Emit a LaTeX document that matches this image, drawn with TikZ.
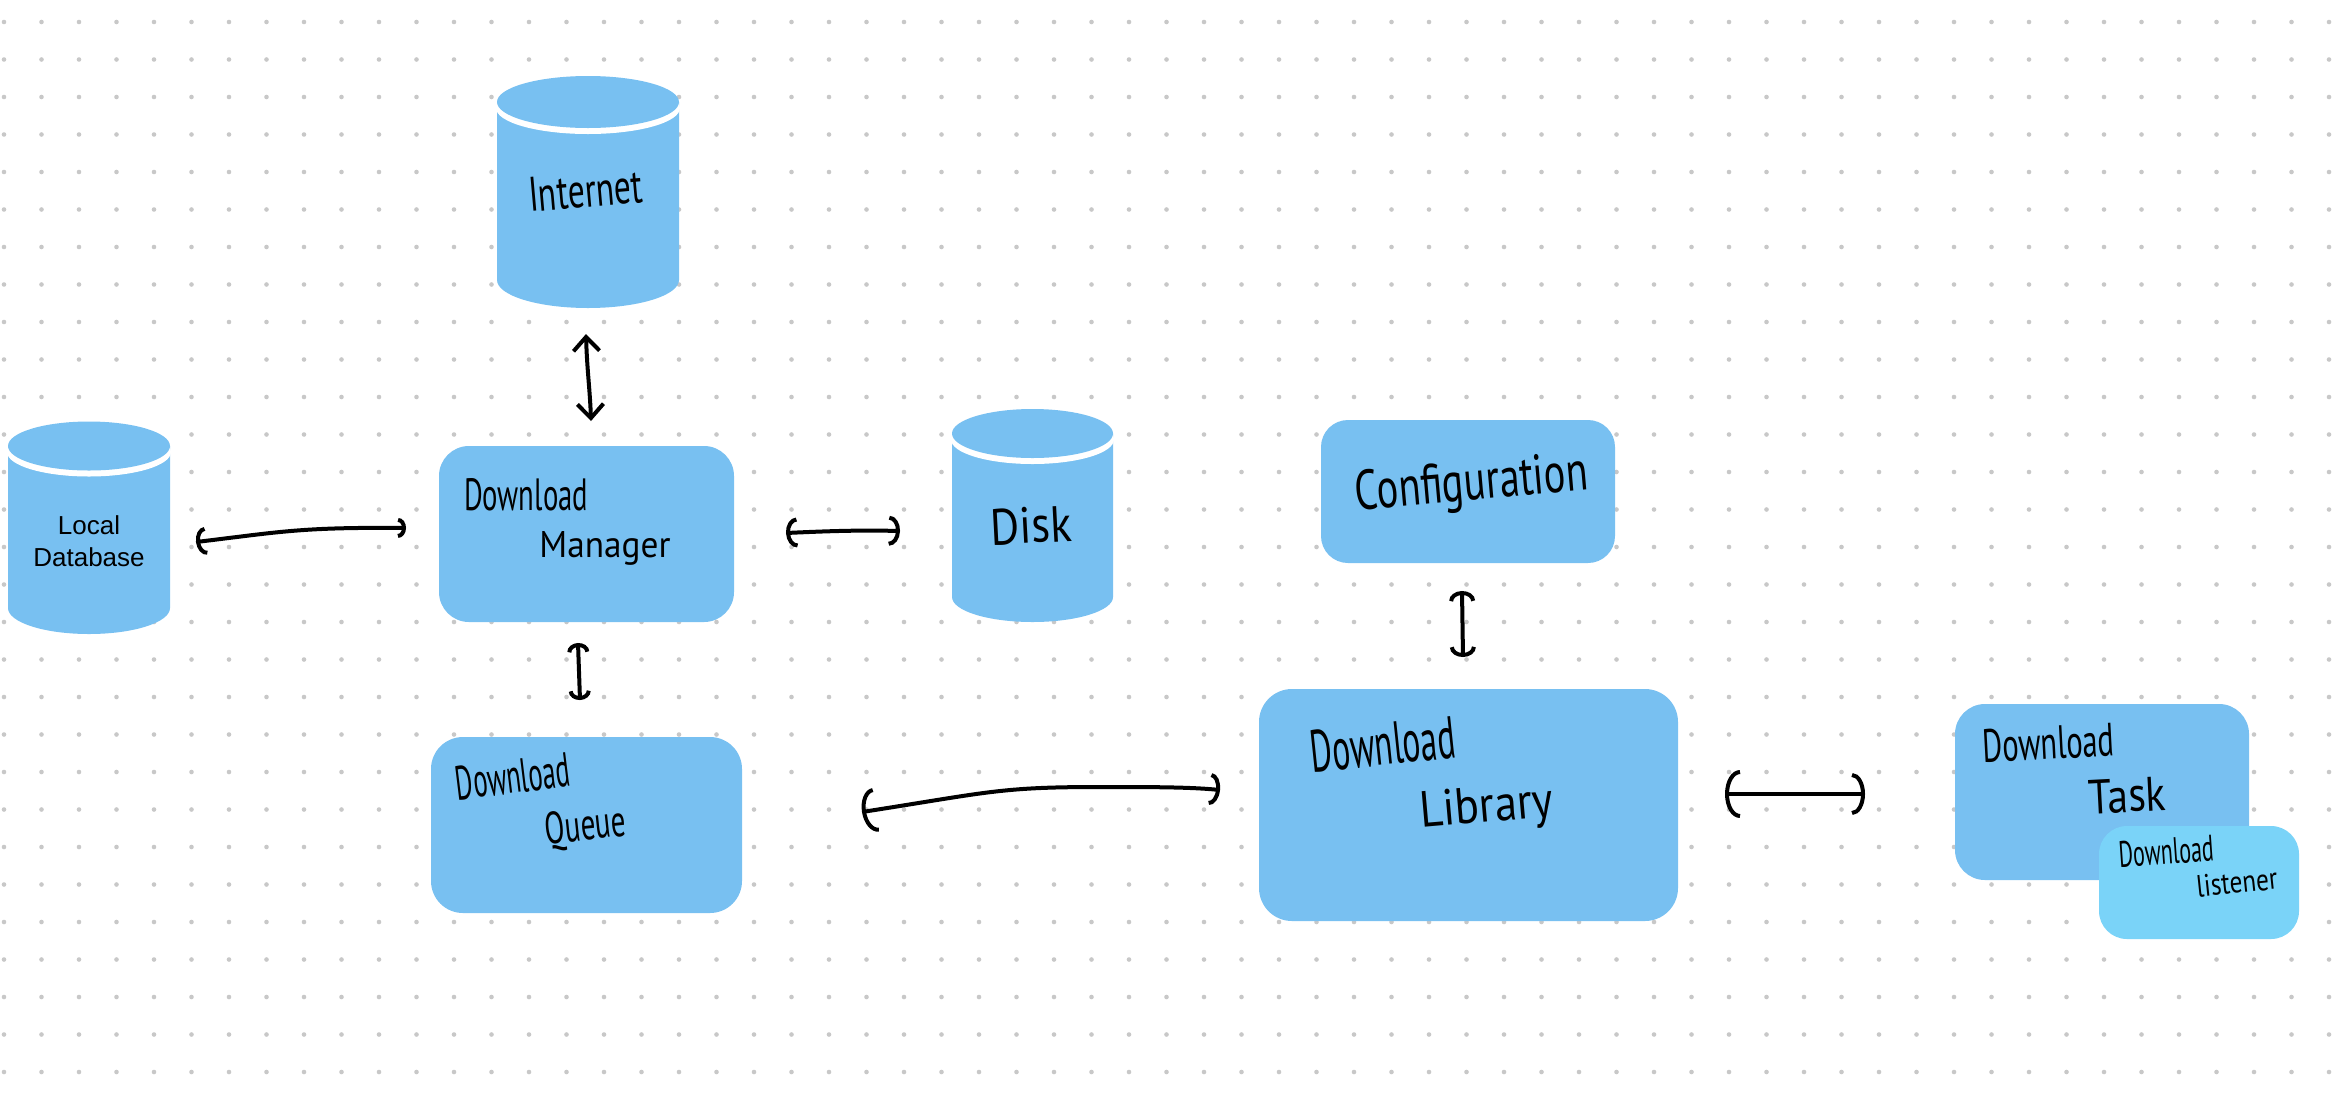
\documentclass[tikz,border=0pt]{standalone}
\usepackage{fontspec}
\setmainfont{Liberation Sans}
\newfontfamily\hwfont{PT Sans}
\usepackage{graphicx}
\usetikzlibrary{arrows.meta,calc}
\definecolor{boxblue}{RGB}{120,192,241}
\definecolor{lightblue}{RGB}{122,211,248}
\definecolor{dotgray}{RGB}{200,200,200}
\tikzset{
  box/.style={fill=boxblue, inner sep=0pt, outer sep=0pt},
  hw/.style={inner sep=0pt, text=black, font=\hwfont, anchor=base},
  conn/.style={line width=4pt, line cap=round, line join=round, draw=black},
}
\newcommand{\hwtext}[3]{\resizebox{#1pt}{#2pt}{#3}}
% cx, cy (top ellipse centre), rx, ry, bottom y, bottom ry
\newcommand{\cylshape}[6]{%
  \fill[boxblue] ({#1-#3},#2) -- ({#1-#3},{#5-#6})
     arc[start angle=180, end angle=0, x radius=#3, y radius=#6]
     -- ({#1+#3},#2) -- cycle;
  \fill[white] (#1,{#2+6}) ellipse[x radius={#3+1}, y radius=#4];
  \fill[boxblue] (#1,#2) ellipse[x radius=#3, y radius=#4];
}
\begin{document}
\begin{tikzpicture}[x=1pt,y=-1pt]
\useasboundingbox (0,0) rectangle (2334,1096);
\fill[white] (0,0) rectangle (2334,1096);
\foreach \i in {0,...,62}{\foreach \j in {0,...,28}{\fill[dotgray] ({4+37.5*\i},{22+37.5*\j}) circle[radius=2.3];}}

% cylinders
\cylshape{588}{102}{91}{26}{308}{28}
\node[inner sep=0pt, minimum width=182pt, minimum height=232pt] (inet) at (588,192) {};
\cylshape{89}{446}{81}{24.5}{634}{26}
\node[inner sep=0pt, minimum width=162pt, minimum height=212pt] (ldb) at (89,528) {};
\cylshape{1032.5}{433.5}{80.5}{24.5}{622}{25}
\node[inner sep=0pt, minimum width=161pt, minimum height=213pt] (disk) at (1032.5,515.5) {};

% boxes
\node[box, rounded corners=30pt, minimum width=295pt, minimum height=176pt] (dm) at (586.5,534) {};
\node[box, rounded corners=32pt, minimum width=311pt, minimum height=176pt] (queue) at (586.5,825) {};
\node[box, rounded corners=27pt, minimum width=294pt, minimum height=143pt] (conf) at (1468,491.5) {};
\node[box, rounded corners=33pt, minimum width=419pt, minimum height=232pt] (lib) at (1468.5,805) {};
\node[box, rounded corners=30pt, minimum width=294pt, minimum height=176pt] (task) at (2102,792) {};
\node[box, fill=lightblue, rounded corners=28pt, minimum width=200pt, minimum height=113pt] (lis) at (2199,882.5) {};

% texts
\node[hw, rotate=5] (inetT) at (587,207) {\hwtext{114}{34}{Internet}};
\node[inner sep=0pt, align=center, font=\fontsize{26}{32.5}\selectfont] (ldbT) at (89,541) {Local\\Database};
\node[hw, rotate=3] (diskT) at (1032,543) {\hwtext{81}{36}{Disk}};
\node[hw] (dmT1) at (526,510) {\hwtext{124}{32}{Download}};
\node[hw] (dmT2) at (605,557) {\hwtext{131}{26}{Manager}};
\node[hw, rotate=5] (confT) at (1473,500) {\hwtext{233}{40}{Configuration}};
\node[hw, rotate=7] (queueT1) at (515,793) {\hwtext{115}{34}{Download}};
\node[hw, rotate=6] (queueT2) at (587,840) {\hwtext{81}{32}{Queue}};
\node[hw, rotate=6] (libT1) at (1385,765) {\hwtext{145}{42}{Download}};
\node[hw, rotate=5] (libT2) at (1488,822) {\hwtext{133}{36}{Library}};
\node[hw, rotate=3] (taskT1) at (2049,759) {\hwtext{132}{33}{Download}};
\node[hw, rotate=3] (taskT2) at (2128,812) {\hwtext{77}{34}{Task}};
\node[hw, rotate=4] (lisT1) at (2167,864) {\hwtext{95}{26}{Download}};
\node[hw, rotate=6] (lisT2) at (2238,893) {\hwtext{81}{22}{listener}};

% connector ends
\coordinate (a1s) at (196,542);
\coordinate (a1e) at (406,528);
\coordinate (a2s) at (786,533);
\coordinate (a2e) at (900,531);
\coordinate (a3s) at (586,334);
\coordinate (a3e) at (591,421);
\coordinate (a4s) at (578,643);
\coordinate (a4e) at (580,700);
\coordinate (a5s) at (1462,591);
\coordinate (a5e) at (1463,657);
\coordinate (a6s) at (862,812);
\coordinate (a6e) at (1220,790);
\coordinate (a7s) at (1725,794);
\coordinate (a7e) at (1865,794);

% connectors
\draw[conn, {Arc Barb[length=10pt,width=28pt]}-{Arc Barb[length=8pt,width=20pt]}]
  (a1s) .. controls (280,532) and (300,527) .. (a1e);
\draw[conn, {Arc Barb[length=11pt,width=30pt]}-{Arc Barb[length=11pt,width=30pt]}]
  (a2s) .. controls (830,531) and (860,530) .. (a2e);
\draw[conn, {Straight Barb[length=14pt,width=26pt]}-{Straight Barb[length=14pt,width=26pt]}]
  (a3s) .. controls (587,370) and (590,390) .. (a3e);
\draw[conn, {Arc Barb[length=9pt,width=22pt]}-{Arc Barb[length=9pt,width=22pt]}]
  (a4s) -- (a4e);
\draw[conn, {Arc Barb[length=10pt,width=26pt]}-{Arc Barb[length=10pt,width=26pt]}]
  (a5s) -- (a5e);
\draw[conn, {Arc Barb[length=14pt,width=44pt]}-{Arc Barb[length=10pt,width=32pt]}]
  (a6s) .. controls (990,792) and (1000,787) .. (1100,787) .. controls (1150,787) and (1190,787) .. (a6e);
\draw[conn, {Arc Barb[length=15pt,width=48pt]}-{Arc Barb[length=13pt,width=42pt]}]
  (a7s) -- (a7e);
\end{tikzpicture}
\end{document}
